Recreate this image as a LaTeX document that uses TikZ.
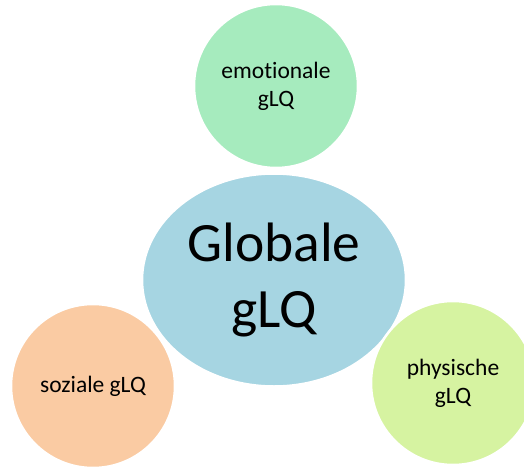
\documentclass[tikz,border=0pt]{standalone}
\usepackage{fontspec}
\setmainfont[Ligatures=NoCommon]{Carlito}
\usetikzlibrary{shapes.geometric}
\definecolor{globblue}{RGB}{166,213,226}
\definecolor{emogreen}{RGB}{166,235,190}
\definecolor{sozpeach}{RGB}{250,203,163}
\definecolor{phylime}{RGB}{214,243,161}
\tikzset{
  part/.style={circle, draw=white, line width=2.5pt, inner sep=0pt,
    minimum size=164pt, align=center, font=\fontsize{23.5}{28}\selectfont},
  whole/.style={ellipse, draw=white, line width=2.5pt, fill=globblue, inner sep=0pt,
    minimum width=264pt, minimum height=213pt, align=center,
    font=\fontsize{55.5}{66}\selectfont}
}
\begin{document}
\begin{tikzpicture}[x=1pt,y=-1pt]
  \useasboundingbox (0,0) rectangle (524,468);
  \node[whole] (glob) at (274,280) {Globale\\gLQ};
  \node[part, fill=emogreen] (emo) at (276,86) {emotionale\\gLQ};
  \node[part, fill=sozpeach] (soz) at (93,386) {soziale gLQ};
  \node[part, fill=phylime] (phy) at (453,383) {physische\\gLQ};
\end{tikzpicture}
\end{document}
